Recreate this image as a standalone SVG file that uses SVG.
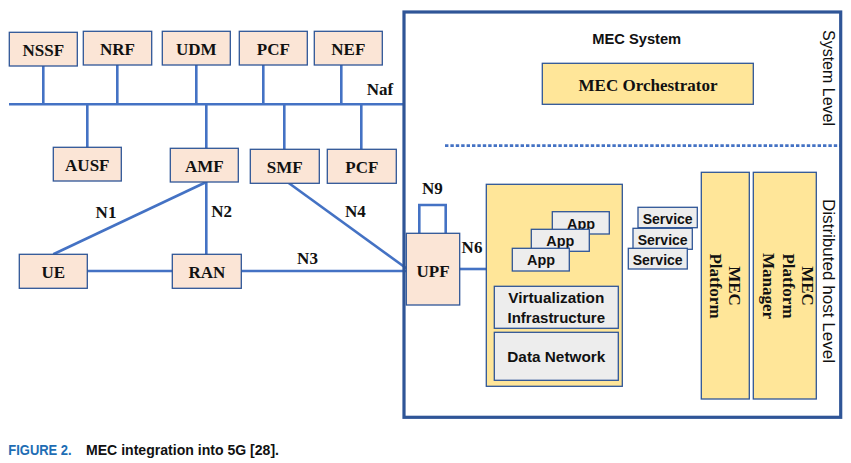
<svg xmlns="http://www.w3.org/2000/svg" width="851" height="463" viewBox="0 0 851 463">
<style>
.nf{fill:#FBE5D6;stroke:#2F5597;stroke-width:1.3}
.yl{fill:#FFE699;stroke:#2F5597;stroke-width:1.3}
.gr{fill:#EDEDED;stroke:#2F5597;stroke-width:1.3}
.tm{font-family:"Liberation Serif","Times New Roman",serif;font-weight:bold;font-size:17px;fill:#111;text-anchor:middle}
.sb{font-family:"Liberation Sans",Arial,sans-serif;font-weight:bold;font-size:15px;fill:#111;text-anchor:middle}
.sr{font-family:"Liberation Sans",Arial,sans-serif;font-size:16.5px;fill:#111;text-anchor:middle}
.ln{stroke:#4472C4;stroke-width:2.6;fill:none}
</style>
<rect width="851" height="463" fill="#fff"/>
<g id="connectors">
<line class="ln" x1="9" y1="104.3" x2="404" y2="104.3" stroke-width="3"/>
<line class="ln" x1="43.3" y1="66" x2="43.3" y2="104.3"/>
<line class="ln" x1="117.3" y1="65" x2="117.3" y2="104.3"/>
<line class="ln" x1="196.3" y1="65" x2="196.3" y2="104.3"/>
<line class="ln" x1="263.3" y1="65" x2="263.3" y2="104.3"/>
<line class="ln" x1="341.3" y1="65" x2="341.3" y2="104.3"/>
<line class="ln" x1="87.3" y1="104.3" x2="87.3" y2="147.3"/>
<line class="ln" x1="206.3" y1="104.3" x2="206.3" y2="148.3"/>
<line class="ln" x1="284.3" y1="104.3" x2="284.3" y2="149.3"/>
<line class="ln" x1="361.3" y1="104.3" x2="361.3" y2="149.3"/>
<line class="ln" x1="206.3" y1="182" x2="53.3" y2="254.3"/>
<line class="ln" x1="206.3" y1="182" x2="206.3" y2="254.3"/>
<line class="ln" x1="288.7" y1="183" x2="406.3" y2="268.3"/>
<line class="ln" x1="87.3" y1="271" x2="172.3" y2="271"/>
<line class="ln" x1="241.3" y1="271" x2="406.3" y2="271"/>
<line class="ln" x1="459.7" y1="269" x2="489.3" y2="269"/>
<polyline class="ln" points="419.3,233.3 419.3,205 445.7,205 445.7,233.3" stroke-width="3"/>
<line x1="445" y1="145.7" x2="840" y2="145.7" stroke="#4472C4" stroke-width="2.7" stroke-dasharray="3.4 2"/>
<text class="tm" x="380" y="95">Naf</text>
<text class="tm" x="106" y="217.7">N1</text>
<text class="tm" x="221.7" y="217">N2</text>
<text class="tm" x="307.5" y="264.3">N3</text>
<text class="tm" x="355.3" y="217">N4</text>
<text class="tm" x="472" y="253.3">N6</text>
<text class="tm" x="432.3" y="194">N9</text>
</g>
<g id="NSSF"><rect class="nf" x="9.3" y="32.3" width="68" height="33.7"/><text class="tm" x="43.3" y="55.7">NSSF</text></g>
<g id="NRF"><rect class="nf" x="83.3" y="31.3" width="68.4" height="33.7"/><text class="tm" x="117.5" y="55">NRF</text></g>
<g id="UDM"><rect class="nf" x="162.3" y="31.3" width="68" height="33.7"/><text class="tm" x="196.3" y="55">UDM</text></g>
<g id="PCF"><rect class="nf" x="239.3" y="31.3" width="68" height="33.7"/><text class="tm" x="273.3" y="55">PCF</text></g>
<g id="NEF"><rect class="nf" x="314.3" y="31.3" width="68" height="33.7"/><text class="tm" x="348.3" y="55">NEF</text></g>
<g id="AUSF"><rect class="nf" x="53.3" y="147.3" width="68" height="33.7"/><text class="tm" x="87.3" y="170.5">AUSF</text></g>
<g id="AMF"><rect class="nf" x="170.3" y="148.3" width="68" height="33.7"/><text class="tm" x="204.3" y="171.5">AMF</text></g>
<g id="SMF"><rect class="nf" x="250.3" y="149.3" width="69" height="34"/><text class="tm" x="284.8" y="172.6">SMF</text></g>
<g id="PCF2"><rect class="nf" x="327.3" y="149.3" width="69" height="34"/><text class="tm" x="361.8" y="172.6">PCF</text></g>
<g id="UE"><rect class="nf" x="19.3" y="254.3" width="68" height="34"/><text class="tm" x="53.3" y="277.7">UE</text></g>
<g id="RAN"><rect class="nf" x="172.3" y="254.3" width="69" height="34"/><text class="tm" x="206.8" y="277.7">RAN</text></g>
<g id="MEC-System">
<rect x="404" y="12" width="436.7" height="405.3" fill="none" stroke="#2F5597" stroke-width="3.2"/>
<text class="sb" x="636.7" y="43.5" font-size="16" textLength="89" lengthAdjust="spacingAndGlyphs">MEC System</text>
<text class="sr" transform="translate(823,78) rotate(90)" x="0" y="0" textLength="96" lengthAdjust="spacingAndGlyphs">System Level</text>
<text class="sr" transform="translate(823,281) rotate(90)" x="0" y="0" textLength="164" lengthAdjust="spacingAndGlyphs">Distributed host Level</text>
</g>
<g id="UPF"><rect class="nf" x="406.3" y="233.3" width="53.4" height="71.7"/><text class="tm" x="433" y="276.7">UPF</text></g>
<g id="MEC-Orchestrator"><rect class="yl" x="542.3" y="63.3" width="211" height="41"/><text class="tm" x="648" y="90.7">MEC Orchestrator</text></g>
<g id="MEC-Host">
<rect class="yl" x="486.3" y="184.3" width="136" height="202"/>
<rect class="gr" x="552.3" y="211.7" width="57" height="22.3"/><text class="sb" x="581" y="228.5" textLength="28" lengthAdjust="spacingAndGlyphs">App</text>
<rect class="gr" x="531.3" y="229.3" width="58" height="22"/><text class="sb" x="560.3" y="246.2" textLength="28" lengthAdjust="spacingAndGlyphs">App</text>
<rect class="gr" x="512.3" y="248.3" width="57" height="22.7"/><text class="sb" x="541" y="265.2" textLength="28" lengthAdjust="spacingAndGlyphs">App</text>
<rect class="gr" x="494.3" y="286.3" width="124" height="42"/>
<text class="sb" x="556.3" y="302.7" textLength="96" lengthAdjust="spacingAndGlyphs">Virtualization</text>
<text class="sb" x="556.3" y="323.3" textLength="97.5" lengthAdjust="spacingAndGlyphs">Infrastructure</text>
<rect class="gr" x="494.3" y="332.3" width="124" height="48"/>
<text class="sb" x="556.3" y="362.3" textLength="98" lengthAdjust="spacingAndGlyphs">Data Network</text>
</g>
<g id="Services">
<rect class="gr" x="638" y="207.3" width="59.3" height="20.4"/><text class="sb" x="667.7" y="223.5" textLength="50" lengthAdjust="spacingAndGlyphs">Service</text>
<rect class="gr" x="633" y="228.3" width="59.3" height="21"/><text class="sb" x="662.7" y="245" textLength="50" lengthAdjust="spacingAndGlyphs">Service</text>
<rect class="gr" x="628.3" y="248.3" width="59" height="20.7"/><text class="sb" x="657.7" y="264.5" textLength="50" lengthAdjust="spacingAndGlyphs">Service</text>
</g>
<g id="MEC-Platform">
<rect class="yl" x="701.3" y="172.3" width="48" height="226.7"/>
<text class="tm" transform="translate(725,286) rotate(90)"><tspan x="0" y="-4">MEC</tspan><tspan x="0" y="15">Platform</tspan></text>
</g>
<g id="MEC-Platform-Manager">
<rect class="yl" x="753.3" y="172.3" width="63" height="226.7"/>
<text class="tm" transform="translate(785,286) rotate(90)"><tspan x="0" y="-17">MEC</tspan><tspan x="0" y="2.3">Platform</tspan><tspan x="0" y="21.6">Manager</tspan></text>
</g>
<g id="caption">
<text x="8.3" y="455" font-family="'Liberation Sans',Arial,sans-serif" font-weight="bold" font-size="15" fill="#1E6DB4" textLength="63.4" lengthAdjust="spacingAndGlyphs">FIGURE 2.</text>
<text x="86" y="455" font-family="'Liberation Sans',Arial,sans-serif" font-weight="bold" font-size="15" fill="#111" textLength="193" lengthAdjust="spacingAndGlyphs">MEC integration into 5G [28].</text>
</g>
</svg>
